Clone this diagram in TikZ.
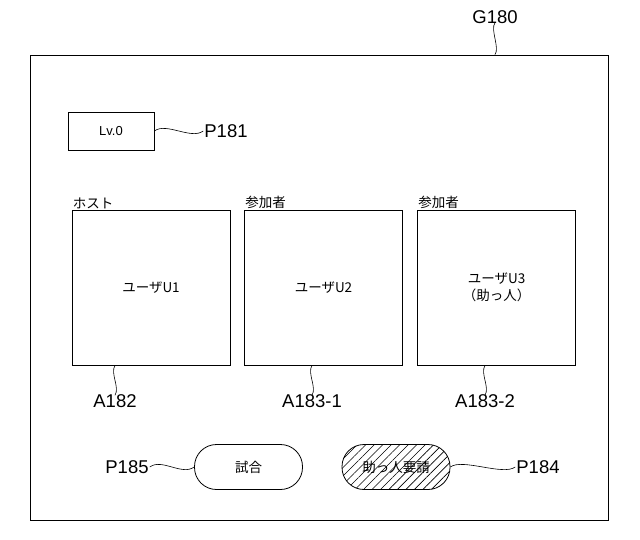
\documentclass[tikz,border=0pt]{standalone}
\usepackage{fontspec}
\setmainfont{Liberation Sans}
\newfontfamily\jp{Noto Sans CJK JP}
\usetikzlibrary{patterns.meta}

\begin{document}
\begin{tikzpicture}[
		x=1pt, y=-1pt,
		every node/.style={font=\fontsize{18.5}{21}\selectfont, align=center, inner sep=1pt},
		panel/.style={draw, line width=0.8pt, minimum width=158pt, minimum height=155pt, font=\jp\fontsize{13.5}{17}\selectfont},
		button/.style={draw, line width=0.8pt, rounded corners=22pt, minimum width=108pt, minimum height=45pt, font=\jp\fontsize{13.5}{16}\selectfont},
		wave/.style={line width=0.6pt}
		]
		\useasboundingbox (0,0) rectangle (640,539);
		
		% Screen
		\node[draw, line width=0.8pt, minimum width=578pt, minimum height=465pt, inner sep=0pt] (screen) at (319,287.5) {};
		\node (g180) at (495,17) {G180};
		\draw[wave] ([yshift=2pt]g180.south) .. controls +(-5,7) and +(5,-7) .. (screen.north -| g180.south);
		
		% Level
		\node[draw, line width=0.8pt, minimum width=86pt, minimum height=38pt, font=\fontsize{13}{15}\selectfont] (level) at (111,131) {Lv.0};
		\node (p181) at (226,131) {P181};
		\draw[wave] (level.east) .. controls +(12,-9) and +(-12,9) .. (p181.west);
		
		% Panels
		\node[panel] (host) at (151,287.5) {ユーザU1};
		\node[panel] (guest1) at (323.5,287.5) {ユーザU2};
		\node[panel] (guest2) at (496.5,287.5) {ユーザU3\\（助っ人）};
		\node[anchor=south west, font=\jp\fontsize{13.5}{16}\selectfont] at (host.north west) {ホスト};
		\node[anchor=south west, font=\jp\fontsize{13.5}{16}\selectfont] at (guest1.north west) {参加者};
		\node[anchor=south west, font=\jp\fontsize{13.5}{16}\selectfont] at (guest2.north west) {参加者};
		
		\node (a182) at (115,401) {A182};
		\node (a1831) at (312,401) {A183-1};
		\node (a1832) at (485,401) {A183-2};
		\foreach \n in {a182, a1831, a1832}
			\draw[wave] (\n.north |- host.south) .. controls +(-5,8) and +(5,-8) .. ([yshift=-2pt]\n.north);
		
		% Buttons
		\node[button] (match) at (248.5,467) {試合};
		\node[button, pattern={Lines[angle=45, distance=6pt, line width=0.6pt]}] (help) at (396,467) {助っ人要請};
		\node (p185) at (127,467) {P185};
		\node (p184) at (538,467) {P184};
		\draw[wave] (p185.east) .. controls +(12,-9) and +(-12,9) .. (match.west);
		\draw[wave] (help.east) .. controls +(12,-9) and +(-12,9) .. (p184.west);
		
	\end{tikzpicture}
\end{document}
